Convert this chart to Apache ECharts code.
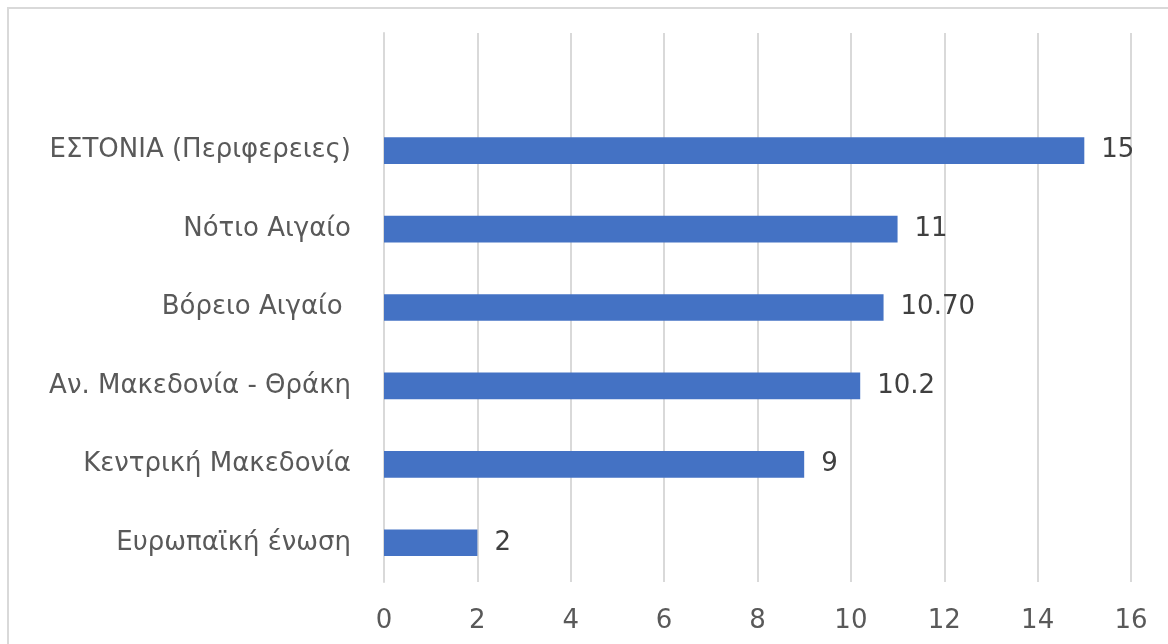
<!DOCTYPE html>
<html><head><meta charset="utf-8">
<script src="https://cdn.jsdelivr.net/npm/echarts@6/dist/echarts.min.js"></script>
<style>html,body{margin:0;padding:0;background:#fff}#c{width:1168px;height:644px}</style>
</head><body><div id="c"></div>
<script>
const categories = ['Ευρωπαϊκή ένωση', 'Κεντρική Μακεδονία', 'Αν. Μακεδονία - Θράκη', 'Βόρειο Αιγαίο ', 'Νότιο Αιγαίο', 'ΕΣΤΟΝΙΑ (Περιφερειες)', ''];
const values = [2, 9, 10.2, 10.7, 11, 15, null];
const valueLabels = ['2', '9', '10.2', '10.70', '11', '15', ''];
const xTicks = [0, 2, 4, 6, 8, 10, 12, 14, 16];

const FONT = 'DejaVu Sans';
const chart = echarts.init(document.getElementById('c'));
chart.setOption({
  animation: false,
  backgroundColor: '#fff',
  textStyle: { fontFamily: FONT },
  graphic: [{ type: 'rect', shape: { x: 8, y: 8, width: 1200, height: 700 }, style: { fill: 'none', stroke: '#d9d9d9', lineWidth: 2 }, silent: true }],
  grid: { left: 384, right: 37, top: 33, bottom: 62, containLabel: false },
  xAxis: {
    type: 'value', min: xTicks[0], max: xTicks[xTicks.length - 1], interval: 2,
    axisLine: { show: false }, axisTick: { show: false },
    splitLine: { lineStyle: { color: '#d9d9d9', width: 2 } },
    axisLabel: { color: '#595959', fontSize: 26, margin: 26, fontFamily: FONT }
  },
  yAxis: {
    type: 'category', data: categories,
    axisLine: { show: true, lineStyle: { color: '#d9d9d9', width: 2 } }, axisTick: { show: false },
    axisLabel: { color: '#595959', fontSize: 26, margin: 33, fontFamily: FONT }
  },
  series: [{
    type: 'bar', data: values, barWidth: '34%',
    itemStyle: { color: '#4472C4' },
    label: {
      show: true, position: 'right', distance: 17, color: '#404040', fontSize: 26, fontFamily: FONT,
      formatter: p => valueLabels[p.dataIndex]
    }
  }]
});
</script></body></html>
